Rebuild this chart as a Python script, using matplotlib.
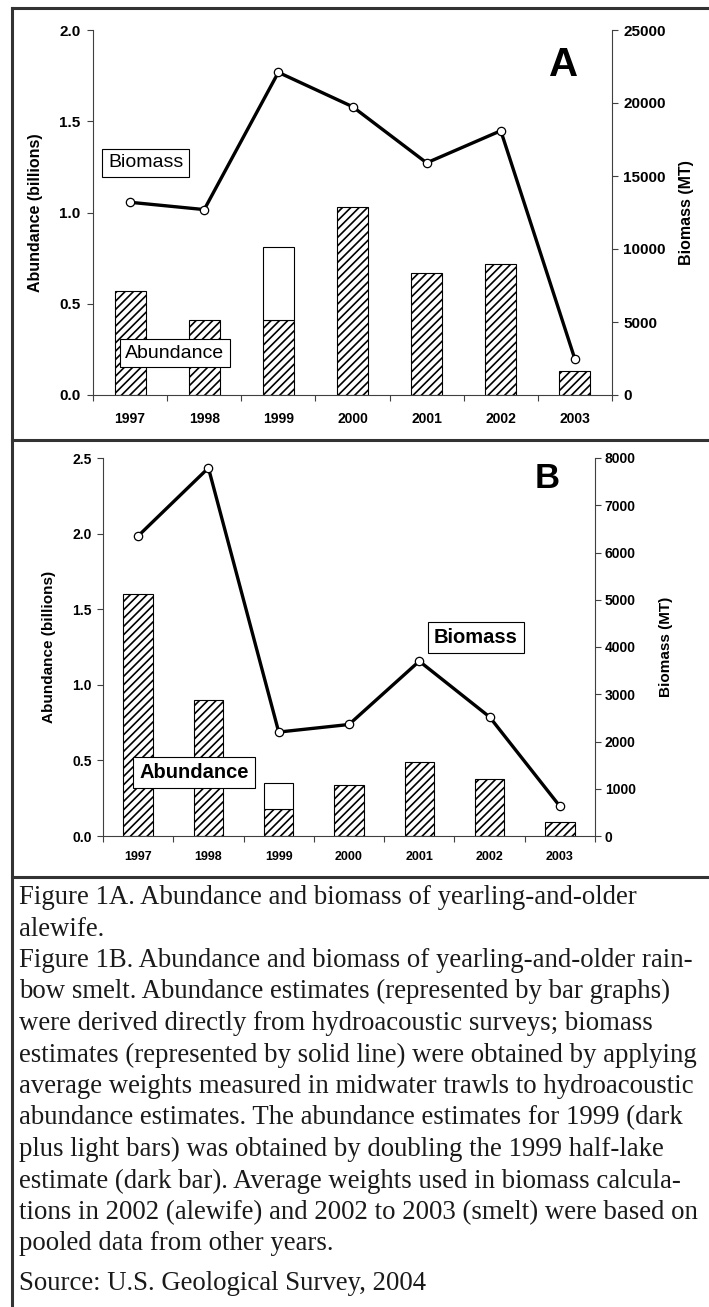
import matplotlib.pyplot as plt
from matplotlib.lines import Line2D
import numpy as np

years = ['1997', '1998', '1999', '2000', '2001', '2002', '2003']

# panel A - alewife
alewife_abundance = [0.57, 0.41, 0.41, 1.03, 0.67, 0.72, 0.13]   # billions (dark bars)
alewife_1999_total = 0.81                                        # dark + light bar
alewife_biomass = [13200, 12700, 22100, 19750, 15900, 18100, 2450]  # MT

# panel B - rainbow smelt
smelt_abundance = [1.60, 0.90, 0.18, 0.34, 0.49, 0.38, 0.09]
smelt_1999_total = 0.35
smelt_biomass = [6350, 7790, 2200, 2360, 3700, 2520, 630]

caption_lines = [
    'Figure 1A. Abundance and biomass of yearling-and-older',
    'alewife.',
    'Figure 1B. Abundance and biomass of yearling-and-older rain-',
    'bow smelt. Abundance estimates (represented by bar graphs)',
    'were derived directly from hydroacoustic surveys; biomass',
    'estimates (represented by solid line) were obtained by applying',
    'average weights measured in midwater trawls to hydroacoustic',
    'abundance estimates. The abundance estimates for 1999 (dark',
    'plus light bars) was obtained by doubling the 1999 half-lake',
    'estimate (dark bar). Average weights used in biomass calcula-',
    'tions in 2002 (alewife) and 2002 to 2003 (smelt) were based on',
    'pooled data from other years.',
]
source_line = 'Source: U.S. Geological Survey, 2004'

W, H = 709, 1307
SANS = ['Liberation Sans', 'DejaVu Sans']
SERIF = ['Liberation Serif', 'DejaVu Serif']
plt.rcParams['font.family'] = SANS
plt.rcParams['hatch.linewidth'] = 1.2

fig = plt.figure(figsize=(W / 100, H / 100), dpi=100)


def px_rect(x0, y0, x1, y1):
    # pixel box (top-left origin) -> figure fraction rect
    return [x0 / W, 1 - y1 / H, (x1 - x0) / W, (y1 - y0) / H]


def draw_panel(rect, abund, total_1999, biomass, left_max, left_step, right_max, right_step,
               tick_size, label_size, pads, letter, letter_size, letter_xy,
               bio_xy, abu_xy, note_size, note_weight, xlab_pad):
    ax = fig.add_axes(rect)
    x = np.arange(len(years))
    ax.bar(x, abund, width=0.42, color='white', edgecolor='black', hatch='////', linewidth=0.8)
    i99 = years.index('1999')
    ax.bar(i99, total_1999 - abund[i99], bottom=abund[i99], width=0.42,
           color='white', edgecolor='black', linewidth=0.8)
    ax.set_xlim(-0.5, len(years) - 0.5)
    ax.set_ylim(0, left_max)
    lt = np.arange(0, left_max + 1e-9, left_step)
    ax.set_yticks(lt)
    ax.set_yticklabels(['%.1f' % v for v in lt], fontsize=tick_size, fontweight='bold')
    ax.set_xticks(np.arange(-0.5, len(years)))
    ax.set_xticklabels([])
    ax.set_xticks(x, minor=True)
    ax.set_xticklabels(years, minor=True, fontsize=tick_size - 1, fontweight='bold')
    ax.tick_params(axis='x', which='major', direction='out', length=4, color='#404040')
    ax.tick_params(axis='x', which='minor', length=0, pad=xlab_pad)
    ax.tick_params(axis='y', direction='out', length=4, color='#404040', pad=pads[0])
    for s in ['top', 'right']:
        ax.spines[s].set_visible(False)
    for s in ['left', 'bottom']:
        ax.spines[s].set_color('#404040')
    ax.set_ylabel('Abundance (billions)', fontsize=label_size, fontweight='bold', labelpad=pads[2])

    ax2 = ax.twinx()
    ax2.plot(x, biomass, color='black', lw=2.4, marker='o', ms=6,
             mfc='white', mec='black', mew=0.9, zorder=3)
    ax2.set_ylim(0, right_max)
    rt = np.arange(0, right_max + 1, right_step)
    ax2.set_yticks(rt)
    ax2.set_yticklabels(['%d' % v for v in rt], fontsize=tick_size, fontweight='bold')
    ax2.tick_params(axis='y', direction='out', length=4, color='#404040', pad=pads[1])
    for s in ['top', 'left', 'bottom']:
        ax2.spines[s].set_visible(False)
    ax2.spines['right'].set_color('#404040')
    ax2.set_ylabel('Biomass (MT)', fontsize=label_size, fontweight='bold', labelpad=pads[3])

    box = dict(boxstyle='square,pad=0.3', fc='white', ec='black', lw=0.8)
    ax2.text(*bio_xy, 'Biomass', transform=ax.transAxes, ha='center', va='center',
             fontsize=note_size, fontweight=note_weight, bbox=box, zorder=5)
    ax2.text(*abu_xy, 'Abundance', transform=ax.transAxes, ha='center', va='center',
             fontsize=note_size, fontweight=note_weight, bbox=box, zorder=5)
    ax2.text(*letter_xy, letter, transform=ax.transAxes, ha='center', va='center',
             fontsize=letter_size, fontweight='bold')
    return ax


draw_panel(px_rect(93, 30, 612, 395), alewife_abundance, alewife_1999_total, alewife_biomass,
           2.0, 0.5, 25000, 5000, 11, 11.5, (5, 4, 12, 10),
           'A', 29, (0.9075, 0.905), (0.102, 0.636), (0.158, 0.115), 14, 'normal', 12)

draw_panel(px_rect(103, 458, 595, 836), smelt_abundance, smelt_1999_total, smelt_biomass,
           2.5, 0.5, 8000, 1000, 10, 11, (4, 3, 12, 17),
           'B', 25, (0.902, 0.946), (0.758, 0.526), (0.185, 0.169), 14.5, 'bold', 11)

# frame lines
fc = '#333333'
for (x0, y0, x1, y1) in [(12, 8, 709, 8), (12, 8, 12, 1307), (12, 440, 709, 440), (12, 877, 709, 877)]:
    fig.add_artist(Line2D([x0 / W, x1 / W], [1 - y0 / H, 1 - y1 / H], color=fc, lw=2.2))

# caption
for i, line in enumerate(caption_lines):
    fig.text(19 / W, 1 - (904 + 31.5 * i) / H, line, family=SERIF, fontsize=19.3,
             va='baseline', ha='left', color='#1a1a1a')
fig.text(19 / W, 1 - 1290 / H, source_line, family=SERIF, fontsize=19.3,
         va='baseline', ha='left', color='#1a1a1a')

fig.savefig('out.png', dpi=100, facecolor='white')
